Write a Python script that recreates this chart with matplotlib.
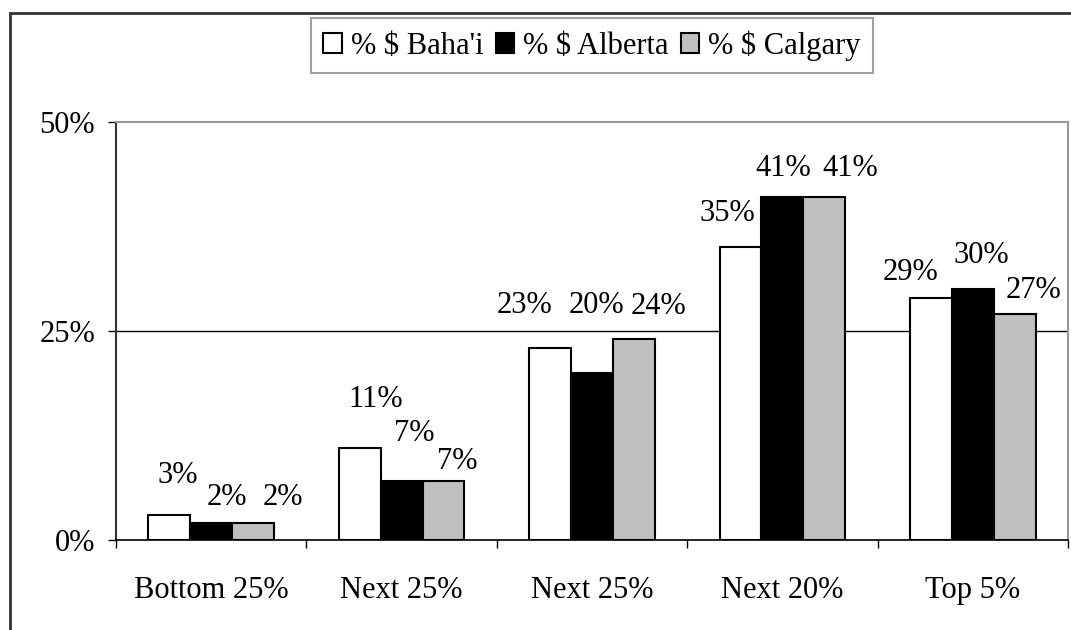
import matplotlib.pyplot as plt
from matplotlib.patches import Rectangle
import numpy as np

categories = ['Bottom 25%', 'Next 25%', 'Next 25%', 'Next 20%', 'Top 5%']
series_names = ["% $ Baha'i", '% $ Alberta', '% $ Calgary']
bahai = [3, 11, 23, 35, 29]
alberta = [2, 7, 20, 41, 30]
calgary = [2, 7, 24, 41, 27]
y_ticks = [0, 25, 50]

# label placement as Excel laid it out (pixels from bar top-centre)
label_dx = [[8, 16, -26, -13, -20], [16, 13, 4, 1, 9], [30, 14, 25, 26, 19]]
label_dy = [[39, 49, 42, 34, 25], [26, 48, 67, 29, 34], [26, 20, 33, 29, 24]]

plt.rcParams['font.family'] = ['Liberation Serif', 'DejaVu Serif']
fs = 22

fig = plt.figure(figsize=(10.71, 6.3), dpi=100)
ax = fig.add_axes([116 / 1071, 1 - 540 / 630, 952 / 1071, 418 / 630])

x = np.arange(len(categories))
w = 0.22
colors = ['white', 'black', '#C0C0C0']
all_series = [bahai, alberta, calgary]
for i, (vals, name, c) in enumerate(zip(all_series, series_names, colors)):
    pos = x + (i - 1) * w
    ax.bar(pos, vals, width=w, color=c, edgecolor='black', linewidth=1.5,
           label=name, zorder=3)
    for j, v in enumerate(vals):
        ax.annotate('%d%%' % v, xy=(pos[j], v),
                    xytext=(label_dx[i][j] * 0.72, label_dy[i][j] * 0.72),
                    textcoords='offset points', ha='center', va='center',
                    fontsize=fs, zorder=4)

ax.axhline(25, color='black', lw=1, zorder=1)
ax.set_xlim(-0.5, len(categories) - 0.5)
ax.set_ylim(0, 50)
ax.set_yticks(y_ticks)
ax.set_yticklabels(['%d%%' % t for t in y_ticks], fontsize=fs)
ax.tick_params(axis='y', direction='out', length=6, width=1, pad=9)

ax.set_xticks(np.arange(len(categories) + 1) - 0.5)
ax.set_xticklabels([])
ax.tick_params(axis='x', which='major', direction='out', length=6, width=1)
ax.set_xticks(x, minor=True)
ax.set_xticklabels(categories, minor=True, fontsize=fs)
ax.tick_params(axis='x', which='minor', length=0, pad=26)

ax.spines['left'].set_color('#333333')
ax.spines['left'].set_linewidth(1.5)
ax.spines['bottom'].set_color('black')
ax.spines['bottom'].set_linewidth(1.2)
for s in ['top', 'right']:
    ax.spines[s].set_color('#999999')
    ax.spines[s].set_linewidth(1.5)

leg = fig.legend(loc='upper center', bbox_to_anchor=(592 / 1071, 1 - 18 / 630),
                 ncol=3, fontsize=fs, frameon=True, fancybox=False,
                 handlelength=0.6, handleheight=0.6, handletextpad=0.3,
                 columnspacing=0.4, borderpad=0.4, borderaxespad=0)
leg.get_frame().set_edgecolor('#888888')
leg.get_frame().set_linewidth(1.5)

fig.add_artist(Rectangle((10 / 1071, -0.1), 1.2, 1.1 - 13 / 630,
                         transform=fig.transFigure, fill=False,
                         edgecolor='#333333', linewidth=2, clip_on=False))

fig.savefig('out.png', dpi=100)
